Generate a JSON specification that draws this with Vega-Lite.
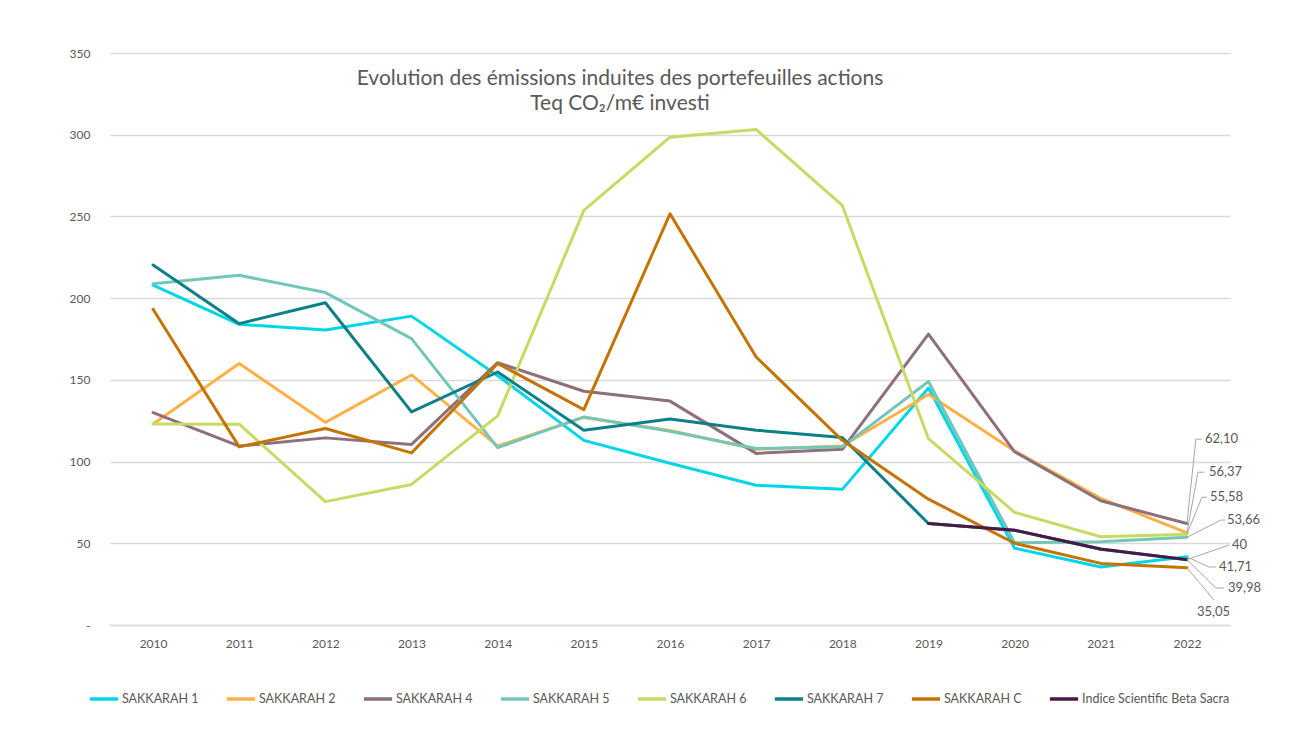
{
  "$schema": "https://vega.github.io/schema/vega-lite/v6.json",
  "autosize": "none",
  "width": 1120,
  "height": 572,
  "padding": {"left": 110, "top": 53, "right": 61, "bottom": 120},
  "background": "white",
  "config": {
    "font": "Lato",
    "view": {"stroke": null},
    "axis": {"labelFont": "Lato", "labelColor": "#595959", "labelFontSize": 12, "titleFont": "Lato"},
    "legend": {"labelFont": "Lato"}
  },
  "title": {
    "text": ["Evolution des émissions induites des portefeuilles actions", "Teq CO₂/m€ investi"],
    "anchor": "middle",
    "font": "Lato",
    "fontSize": 21,
    "fontWeight": "normal",
    "color": "#595959",
    "offset": -67,
    "dx": -50,
    "lineHeight": 25
  },
  "datasets": {
    "lines": [
      {"series": "SAKKARAH 1", "year": 2010, "value": 208},
      {"series": "SAKKARAH 1", "year": 2011, "value": 184},
      {"series": "SAKKARAH 1", "year": 2012, "value": 180.5},
      {"series": "SAKKARAH 1", "year": 2013, "value": 189},
      {"series": "SAKKARAH 1", "year": 2014, "value": 152.5},
      {"series": "SAKKARAH 1", "year": 2015, "value": 113},
      {"series": "SAKKARAH 1", "year": 2016, "value": 99},
      {"series": "SAKKARAH 1", "year": 2017, "value": 85.5},
      {"series": "SAKKARAH 1", "year": 2018, "value": 83},
      {"series": "SAKKARAH 1", "year": 2019, "value": 145},
      {"series": "SAKKARAH 1", "year": 2020, "value": 47},
      {"series": "SAKKARAH 1", "year": 2021, "value": 35.5},
      {"series": "SAKKARAH 1", "year": 2022, "value": 41.71},
      {"series": "SAKKARAH 2", "year": 2010, "value": 123},
      {"series": "SAKKARAH 2", "year": 2011, "value": 160},
      {"series": "SAKKARAH 2", "year": 2012, "value": 124},
      {"series": "SAKKARAH 2", "year": 2013, "value": 153},
      {"series": "SAKKARAH 2", "year": 2014, "value": 109.5},
      {"series": "SAKKARAH 2", "year": 2015, "value": 127},
      {"series": "SAKKARAH 2", "year": 2016, "value": 119},
      {"series": "SAKKARAH 2", "year": 2017, "value": 107.5},
      {"series": "SAKKARAH 2", "year": 2018, "value": 109.5},
      {"series": "SAKKARAH 2", "year": 2019, "value": 141},
      {"series": "SAKKARAH 2", "year": 2020, "value": 106.5},
      {"series": "SAKKARAH 2", "year": 2021, "value": 77.5},
      {"series": "SAKKARAH 2", "year": 2022, "value": 56.37},
      {"series": "SAKKARAH 4", "year": 2010, "value": 130},
      {"series": "SAKKARAH 4", "year": 2011, "value": 109.5},
      {"series": "SAKKARAH 4", "year": 2012, "value": 114.5},
      {"series": "SAKKARAH 4", "year": 2013, "value": 110.5},
      {"series": "SAKKARAH 4", "year": 2014, "value": 160.5},
      {"series": "SAKKARAH 4", "year": 2015, "value": 143},
      {"series": "SAKKARAH 4", "year": 2016, "value": 137},
      {"series": "SAKKARAH 4", "year": 2017, "value": 105},
      {"series": "SAKKARAH 4", "year": 2018, "value": 107.5},
      {"series": "SAKKARAH 4", "year": 2019, "value": 178},
      {"series": "SAKKARAH 4", "year": 2020, "value": 106},
      {"series": "SAKKARAH 4", "year": 2021, "value": 76},
      {"series": "SAKKARAH 4", "year": 2022, "value": 62.10},
      {"series": "SAKKARAH 5", "year": 2010, "value": 208.8},
      {"series": "SAKKARAH 5", "year": 2011, "value": 214},
      {"series": "SAKKARAH 5", "year": 2012, "value": 203.4},
      {"series": "SAKKARAH 5", "year": 2013, "value": 175.2},
      {"series": "SAKKARAH 5", "year": 2014, "value": 108.5},
      {"series": "SAKKARAH 5", "year": 2015, "value": 127.3},
      {"series": "SAKKARAH 5", "year": 2016, "value": 118.5},
      {"series": "SAKKARAH 5", "year": 2017, "value": 108},
      {"series": "SAKKARAH 5", "year": 2018, "value": 109},
      {"series": "SAKKARAH 5", "year": 2019, "value": 149},
      {"series": "SAKKARAH 5", "year": 2020, "value": 50.3},
      {"series": "SAKKARAH 5", "year": 2021, "value": 51},
      {"series": "SAKKARAH 5", "year": 2022, "value": 53.66},
      {"series": "SAKKARAH 6", "year": 2010, "value": 123},
      {"series": "SAKKARAH 6", "year": 2011, "value": 122.9},
      {"series": "SAKKARAH 6", "year": 2012, "value": 75.5},
      {"series": "SAKKARAH 6", "year": 2013, "value": 86},
      {"series": "SAKKARAH 6", "year": 2014, "value": 128},
      {"series": "SAKKARAH 6", "year": 2015, "value": 253.7},
      {"series": "SAKKARAH 6", "year": 2016, "value": 298.5},
      {"series": "SAKKARAH 6", "year": 2017, "value": 303.2},
      {"series": "SAKKARAH 6", "year": 2018, "value": 256.7},
      {"series": "SAKKARAH 6", "year": 2019, "value": 114},
      {"series": "SAKKARAH 6", "year": 2020, "value": 68.9},
      {"series": "SAKKARAH 6", "year": 2021, "value": 54},
      {"series": "SAKKARAH 6", "year": 2022, "value": 55.58},
      {"series": "SAKKARAH 7", "year": 2010, "value": 220.3},
      {"series": "SAKKARAH 7", "year": 2011, "value": 184.4},
      {"series": "SAKKARAH 7", "year": 2012, "value": 197.2},
      {"series": "SAKKARAH 7", "year": 2013, "value": 130.4},
      {"series": "SAKKARAH 7", "year": 2014, "value": 154.8},
      {"series": "SAKKARAH 7", "year": 2015, "value": 119.2},
      {"series": "SAKKARAH 7", "year": 2016, "value": 126},
      {"series": "SAKKARAH 7", "year": 2017, "value": 119.2},
      {"series": "SAKKARAH 7", "year": 2018, "value": 114.7},
      {"series": "SAKKARAH 7", "year": 2019, "value": 62.1},
      {"series": "SAKKARAH 7", "year": 2020, "value": 58},
      {"series": "SAKKARAH 7", "year": 2021, "value": 46.4},
      {"series": "SAKKARAH 7", "year": 2022, "value": 39.98},
      {"series": "SAKKARAH C", "year": 2010, "value": 193.2},
      {"series": "SAKKARAH C", "year": 2011, "value": 109},
      {"series": "SAKKARAH C", "year": 2012, "value": 120.2},
      {"series": "SAKKARAH C", "year": 2013, "value": 105.3},
      {"series": "SAKKARAH C", "year": 2014, "value": 160},
      {"series": "SAKKARAH C", "year": 2015, "value": 131.8},
      {"series": "SAKKARAH C", "year": 2016, "value": 251.6},
      {"series": "SAKKARAH C", "year": 2017, "value": 164},
      {"series": "SAKKARAH C", "year": 2018, "value": 113},
      {"series": "SAKKARAH C", "year": 2019, "value": 77},
      {"series": "SAKKARAH C", "year": 2020, "value": 50},
      {"series": "SAKKARAH C", "year": 2021, "value": 37.7},
      {"series": "SAKKARAH C", "year": 2022, "value": 35.05},
      {"series": "Indice Scientific Beta Sacra", "year": 2019, "value": 62.1},
      {"series": "Indice Scientific Beta Sacra", "year": 2020, "value": 58},
      {"series": "Indice Scientific Beta Sacra", "year": 2021, "value": 46.5},
      {"series": "Indice Scientific Beta Sacra", "year": 2022, "value": 40}
    ],
    "callouts": [
      {"label": "62,10", "year": 2022, "value": 62.10, "elbowYear": 2022.104, "endYear": 2022.174, "labelValue": 113.7, "textYear": 2022.209},
      {"label": "56,37", "year": 2022, "value": 56.37, "elbowYear": 2022.128, "endYear": 2022.197, "labelValue": 93.5, "textYear": 2022.255},
      {"label": "55,58", "year": 2022, "value": 55.58, "elbowYear": 2022.174, "endYear": 2022.232, "labelValue": 78.2, "textYear": 2022.267},
      {"label": "53,66", "year": 2022, "value": 53.66, "elbowYear": 2022.395, "endYear": 2022.441, "labelValue": 64.2, "textYear": 2022.464},
      {"label": "40", "year": 2022, "value": 40, "elbowYear": 2022.488, "endYear": 2022.488, "labelValue": 48.9, "textYear": 2022.522},
      {"label": "41,71", "year": 2022, "value": 41.71, "elbowYear": 2022.255, "endYear": 2022.337, "labelValue": 35.5, "textYear": 2022.371},
      {"label": "39,98", "year": 2022, "value": 39.98, "elbowYear": 2022.337, "endYear": 2022.43, "labelValue": 22.6, "textYear": 2022.476},
      {"label": "35,05", "year": 2022, "value": 35.05, "elbowYear": 2022.313, "endYear": 2022.313, "labelValue": 15.3, "textYear": 2022.116, "textValue": 7.9}
    ]
  },
  "layer": [
    {
      "data": {"name": "lines"},
      "mark": {"type": "line", "strokeWidth": 3, "strokeCap": "round", "strokeJoin": "round"},
      "encoding": {
        "x": {
          "field": "year", "type": "quantitative",
          "scale": {"domain": [2009.5, 2022.5], "nice": false, "zero": false},
          "axis": {
            "values": [2010, 2011, 2012, 2013, 2014, 2015, 2016, 2017, 2018, 2019, 2020, 2021, 2022],
            "format": "d", "title": null, "grid": false, "ticks": false,
            "domain": true, "domainColor": "#D9D9D9", "domainWidth": 1.3,
            "labelPadding": 13, "labelFontSize": 12
          }
        },
        "y": {
          "field": "value", "type": "quantitative",
          "scale": {"domain": [0, 350], "nice": false},
          "axis": {
            "values": [0, 50, 100, 150, 200, 250, 300, 350],
            "labelExpr": "datum.value === 0 ? '-' : datum.label",
            "title": null, "domain": false, "ticks": false,
            "grid": true, "gridColor": "#D9D9D9", "gridWidth": 1.3,
            "labelPadding": 20, "labelFontSize": 12
          }
        },
        "color": {
          "field": "series", "type": "nominal",
          "scale": {
            "domain": ["SAKKARAH 1", "SAKKARAH 2", "SAKKARAH 4", "SAKKARAH 5", "SAKKARAH 6", "SAKKARAH 7", "SAKKARAH C", "Indice Scientific Beta Sacra"],
            "range": ["#00D6E8", "#FFB148", "#8E6F7D", "#72C7B9", "#C8DA63", "#0C7F88", "#C47402", "#4A1943"]
          },
          "legend": {
            "orient": "none", "legendX": -22, "legendY": 630,
            "direction": "horizontal", "title": null,
            "symbolType": "stroke", "symbolStrokeWidth": 3.5, "symbolSize": 800,
            "labelFontSize": 12.5, "labelColor": "#595959", "labelOffset": 2,
            "columnPadding": 20, "labelLimit": 300
          }
        }
      }
    },
    {
      "data": {"name": "callouts"},
      "mark": {"type": "rule", "color": "#A6A6A6", "strokeWidth": 1},
      "encoding": {
        "x": {"field": "year", "type": "quantitative"},
        "y": {"field": "value", "type": "quantitative"},
        "x2": {"field": "elbowYear"},
        "y2": {"field": "labelValue"}
      }
    },
    {
      "data": {"name": "callouts"},
      "mark": {"type": "rule", "color": "#A6A6A6", "strokeWidth": 1},
      "encoding": {
        "x": {"field": "elbowYear", "type": "quantitative"},
        "y": {"field": "labelValue", "type": "quantitative"},
        "x2": {"field": "endYear"},
        "y2": {"field": "labelValue"}
      }
    },
    {
      "data": {"name": "callouts"},
      "transform": [{"calculate": "isValid(datum.textValue) ? datum.textValue : datum.labelValue", "as": "ty"}],
      "mark": {"type": "text", "align": "left", "baseline": "middle", "fontSize": 13, "color": "#595959", "font": "Lato"},
      "encoding": {
        "x": {"field": "textYear", "type": "quantitative"},
        "y": {"field": "ty", "type": "quantitative"},
        "text": {"field": "label"}
      }
    }
  ]
}
